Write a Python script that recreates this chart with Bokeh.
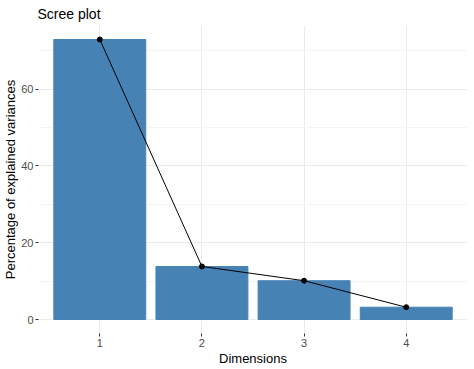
from bokeh.plotting import figure
from bokeh.models import ColumnDataSource, FixedTicker, SingleIntervalTicker, Range1d
from bokeh.embed import file_html
from bokeh.resources import INLINE

dimensions = [1, 2, 3, 4]
variances = [72.9, 13.8, 10.1, 3.2]
x_tick_labels = {1: "1", 2: "2", 3: "3", 4: "4"}

src = ColumnDataSource(dict(x=dimensions, y=variances))

FONT = "Liberation Sans"
ymax = max(variances)
p = figure(width=474, height=369, output_backend="svg", toolbar_location=None,
           x_range=Range1d(0.4, 4.6), y_range=Range1d(-0.05 * ymax, ymax * 1.05),
           title="Scree plot", min_border_left=28, min_border_right=7,
           min_border_top=25, min_border_bottom=36)
p.outline_line_color = None
p.background_fill_color = "white"
p.border_fill_color = "white"

p.title.text_font = FONT
p.title.text_font_size = "14px"
p.title.text_font_style = "normal"
p.title.text_color = "black"
p.title.offset = -1
p.title.standoff = 7

p.vbar(x="x", top="y", width=0.9, bottom=0, source=src, color="#4682B4")
p.line(x="x", y="y", source=src, color="black", line_width=1)
p.scatter(x="x", y="y", source=src, color="black", size=5)

p.xaxis.ticker = FixedTicker(ticks=dimensions)
p.xaxis.major_label_overrides = x_tick_labels
p.yaxis.ticker = SingleIntervalTicker(interval=20, num_minor_ticks=2)
p.xgrid.ticker = FixedTicker(ticks=dimensions)

for ax in (p.xaxis, p.yaxis):
    ax.axis_line_color = None
    ax.major_tick_line_color = "#333333"
    ax.major_tick_in = 0
    ax.major_tick_out = 3
    ax.minor_tick_line_color = None
    ax.major_label_text_font = FONT
    ax.major_label_text_font_size = "11px"
    ax.major_label_text_color = "#4D4D4D"
    ax.axis_label_text_font = FONT
    ax.axis_label_text_font_size = "13px"
    ax.axis_label_text_font_style = "normal"
    ax.axis_label_text_color = "black"
    ax.major_label_standoff = 2
    ax.axis_label_standoff = 1

p.yaxis.major_label_standoff = 1
p.yaxis.axis_label_standoff = 0

p.xaxis.axis_label = "Dimensions"
p.yaxis.axis_label = "Percentage of explained variances"

p.xgrid.grid_line_color = "#EBEBEB"
p.ygrid.grid_line_color = "#EBEBEB"
p.ygrid.minor_grid_line_color = "#F4F4F4"
p.xgrid.grid_line_width = 1
p.ygrid.grid_line_width = 1

open("out.html", "w").write(file_html(p, INLINE))
